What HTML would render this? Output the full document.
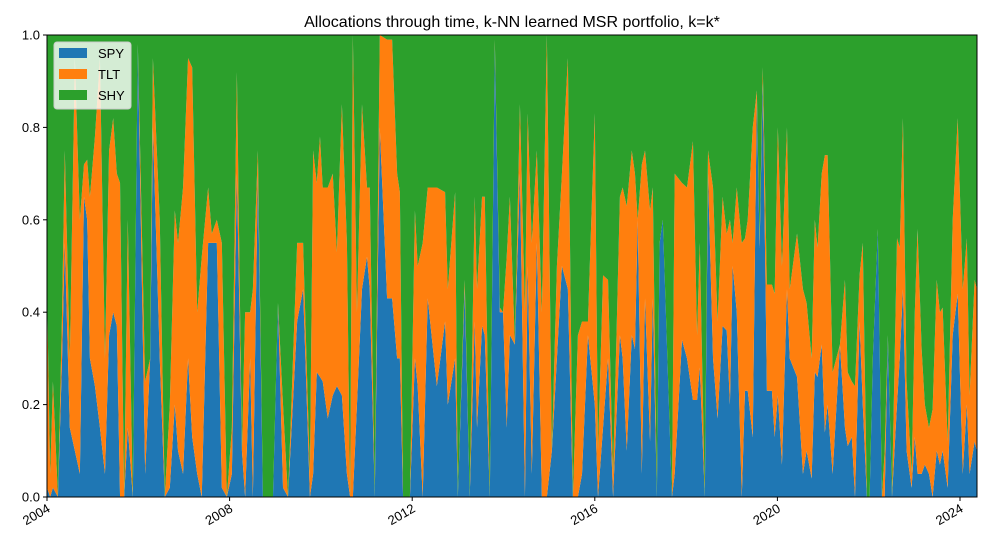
<!DOCTYPE html>
<html><head><meta charset="utf-8">
<style>
html,body{margin:0;padding:0;background:#fff;}
svg{display:block;font-family:"Liberation Sans","DejaVu Sans",sans-serif;}
</style></head>
<body>
<svg id="chart" width="1004" height="560" viewBox="0 0 1004 560" xmlns="http://www.w3.org/2000/svg">
<rect x="0" y="0" width="1004" height="560" fill="#fff"/>
<text x="512" y="27" text-anchor="middle" font-size="16" fill="#000">Allocations through time, k-NN learned MSR portfolio, k=k*</text>
<g id="areas"></g>
<g id="yaxis"></g>
<g id="xaxis"></g>
<rect x="47" y="35" width="930" height="462" fill="none" stroke="#000" stroke-width="1"/>
<g>
<rect x="54" y="42" width="77" height="67" rx="3" fill="#fff" fill-opacity="0.8" stroke="#ccc"/>
<rect x="59" y="48" width="28" height="10" fill="#1f77b4"/>
<text x="98" y="58" font-size="13">SPY</text>
<rect x="59" y="69" width="28" height="10" fill="#ff7f0e"/>
<text x="98" y="79" font-size="13">TLT</text>
<rect x="59" y="90" width="28" height="10" fill="#2ca02c"/>
<text x="98" y="100" font-size="13">SHY</text>
</g>
</svg>
<script>
const dates = [0,.07,.13,.24,.33,.39,.50,.61,.72,.81,.88,.94,1.05,1.16,1.27,1.36,1.45,1.53,1.60,1.69,1.77,1.88,1.99,2.15,2.26,2.32,2.47,2.58,2.69,2.80,2.87,2.98,3.09,3.18,3.29,3.39,3.53,3.61,3.72,3.83,3.94,4.05,4.16,4.27,4.34,4.45,4.51,4.62,4.73,4.95,5.06,5.17,5.28,5.48,5.61,5.76,5.83,5.91,5.98,6.04,6.15,6.26,6.35,6.46,6.57,6.64,6.70,6.79,6.90,7.01,7.07,7.18,7.29,7.45,7.56,7.67,7.73,7.80,7.95,8.06,8.12,8.23,8.34,8.54,8.72,8.78,8.94,9.00,9.15,9.26,9.37,9.42,9.53,9.59,9.70,9.81,9.92,9.99,10.07,10.14,10.25,10.36,10.47,10.53,10.62,10.73,10.84,10.95,11.06,11.17,11.28,11.41,11.52,11.63,11.72,11.85,12.00,12.07,12.18,12.29,12.40,12.55,12.61,12.70,12.81,12.88,12.94,13.03,13.10,13.21,13.27,13.36,13.42,13.49,13.69,13.75,13.91,14.02,14.15,14.24,14.30,14.41,14.48,14.59,14.69,14.80,14.89,14.96,15.02,15.11,15.22,15.29,15.35,15.46,15.55,15.61,15.68,15.77,15.88,15.94,16.01,16.10,16.21,16.27,16.43,16.56,16.64,16.75,16.82,16.88,16.97,17.04,17.10,17.21,17.37,17.48,17.54,17.63,17.70,17.80,17.87,17.96,18.02,18.09,18.20,18.29,18.35,18.42,18.51,18.62,18.68,18.75,18.83,18.94,19.01,19.07,19.16,19.23,19.32,19.40,19.49,19.56,19.62,19.73,19.84,19.95,20.06,20.15,20.21,20.32,20.37];
const spy = [.02,0,.02,0,.3,.55,.15,.1,.05,.65,.6,.3,.24,.15,.05,.35,.4,.37,0,0,.15,0,.98,.05,.3,.8,.3,0,.02,.2,.1,.05,.3,.13,.05,0,.55,.55,.55,.02,0,.05,.7,.1,0,.3,0,.7,0,0,.42,.02,0,.38,.45,0,.05,.27,.26,.25,.17,.22,.24,.22,.05,0,0,.2,.45,.52,.45,0,.8,.43,.43,.3,.3,0,0,.3,.24,0,.43,.24,.38,.2,.3,0,.45,0,.38,.15,.37,.35,0,.98,.4,.4,.15,.35,.33,.7,0,.5,.05,.55,0,0,.1,.3,.5,.45,0,0,.05,.35,.2,0,.15,.3,0,.35,.3,.1,.35,.32,.6,.05,.43,.12,.43,0,.55,.6,0,.05,.34,.3,.21,.21,.28,0,.7,.3,.17,.37,.36,.2,.5,.4,0,.23,.23,.13,.87,.54,.9,.23,.23,.13,.22,.07,.45,.3,.26,.05,.1,.04,.27,.26,.33,.14,.2,.05,.33,.15,.11,.13,0,.38,.2,0,0,.3,.58,0,0,.35,0,.2,.3,.45,.1,.02,.13,.05,.05,.07,.05,0,.1,.07,.1,.02,.35,.44,.05,.2,.05,.12,.1];
const tlt = [.43,.05,.23,0,.1,.2,.15,.85,.55,.07,.13,.35,.54,.8,.25,.4,.42,.33,.68,0,.45,0,0,.2,0,.15,.3,0,.18,.42,.45,.62,.65,.8,.35,.52,.12,.02,.05,.53,0,.1,.22,0,.4,.1,.45,.05,0,0,0,.18,0,.17,.1,.05,.7,.41,.52,.42,.5,.48,.29,.63,.5,0,1,.2,.4,.15,.22,0,.2,.56,.56,.4,.36,0,0,.32,.26,.55,.24,.43,.28,.25,.36,0,.02,0,.27,.3,.28,.3,0,.01,.01,0,.37,.3,0,.15,.4,.33,.5,.2,.4,1,0,.2,.2,.5,0,.35,.33,.03,.63,.1,.33,.17,.05,.3,.37,.53,.4,.38,0,.67,.32,.5,.24,0,0,0,0,.65,.34,.37,.56,.14,.27,0,.05,.37,.21,.28,.21,.4,.05,.27,.55,.33,.37,.67,.01,.01,.03,.23,.23,.31,.58,.43,.35,.15,.31,.4,.32,.26,.33,.28,.37,.6,.54,.22,0,.32,.16,.12,.24,.1,.35,0,0,0,0,0,.1,0,0,.36,.24,.37,.15,.03,.27,.53,.27,.13,.1,.19,.37,.33,.31,.1,.25,.38,.4,.36,.17,.35,.35];
const yTicks = [0,0.2,0.4,0.6,0.8,1.0];
const yTickLabels = ["0.0","0.2","0.4","0.6","0.8","1.0"];
const xTicks = [2004,2008,2012,2016,2020,2024];

const NS="http://www.w3.org/2000/svg";
const X0=47,X1=977,Y0=497,Y1=35;
const yearPx=(960-47)/20;
function xs(yr){return X0+(yr-2004)*yearPx;}
function ys(v){return Y0-(Y1-Y0)*-v;}
function yScale(v){return Y0-v*(Y0-Y1);}

const years=dates.map(d=>2004+d);
const lowerS=spy.map(()=>0);
const upperS=spy.slice();
const upperT=spy.map((s,i)=>Math.min(1,s+tlt[i]));
const upperH=spy.map(()=>1);
function band(lo,hi){
  let d="M"+xs(years[0])+","+yScale(hi[0]);
  for(let i=1;i<years.length;i++)d+="L"+xs(years[i]).toFixed(2)+","+yScale(hi[i]).toFixed(2);
  for(let i=years.length-1;i>=0;i--)d+="L"+xs(years[i]).toFixed(2)+","+yScale(lo[i]).toFixed(2);
  return d+"Z";
}
const areas=document.getElementById('areas');
[["area-spy",lowerS,upperS,"#1f77b4"],["area-tlt",upperS,upperT,"#ff7f0e"],["area-shy",upperT,upperH,"#2ca02c"]].forEach(a=>{
  const p=document.createElementNS(NS,'path');
  p.setAttribute('d',band(a[1],a[2]));
  p.setAttribute('fill',a[3]);
  
  
  areas.appendChild(p);
});

const ya=document.getElementById('yaxis');
yTicks.forEach((v,i)=>{
  const y=yScale(v);
  const l=document.createElementNS(NS,'line');
  l.setAttribute('x1',X0-4);l.setAttribute('x2',X0);l.setAttribute('y1',y);l.setAttribute('y2',y);
  l.setAttribute('stroke','#000');
  
  
  ya.appendChild(l);
  const t=document.createElementNS(NS,'text');
  t.setAttribute('x',X0-7);t.setAttribute('y',y+4.5);t.setAttribute('text-anchor','end');t.setAttribute('font-size','13');
  t.textContent=yTickLabels[i];
  
  
  ya.appendChild(t);
});
const xa=document.getElementById('xaxis');
xTicks.forEach(yr=>{
  const x=xs(yr);
  const l=document.createElementNS(NS,'line');
  l.setAttribute('x1',x);l.setAttribute('x2',x);l.setAttribute('y1',Y0);l.setAttribute('y2',Y0+4);
  l.setAttribute('stroke','#000');
  
  
  xa.appendChild(l);
  const t=document.createElementNS(NS,'text');
  t.setAttribute('x',x+4);t.setAttribute('y',Y0+14);t.setAttribute('text-anchor','end');t.setAttribute('font-size','13');
  t.setAttribute('transform','rotate(-30 '+(x+4)+' '+(Y0+14)+')');
  t.textContent=String(yr);
  
  
  xa.appendChild(t);
});
</script>
</body></html>
